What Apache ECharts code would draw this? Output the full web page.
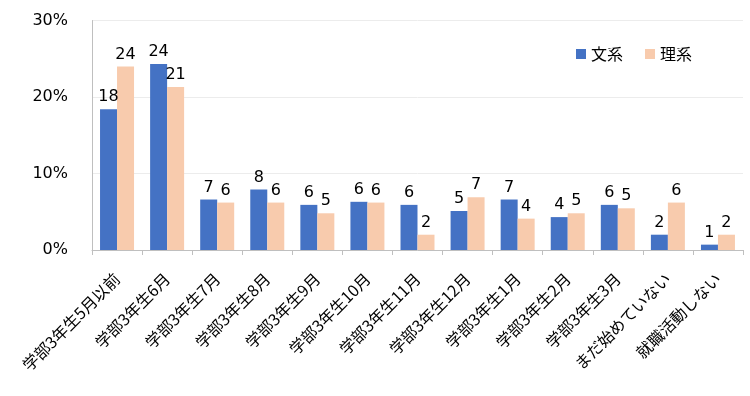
<!DOCTYPE html>
<html><head><meta charset="utf-8">
<script src="https://cdn.jsdelivr.net/npm/echarts@6/dist/echarts.min.js"></script>
<style>html,body{margin:0;padding:0;background:#fff}#c{width:750px;height:396px}</style>
</head><body><div id="c"></div>
<script>
const categories = ['学部3年生5月以前','学部3年生6月','学部3年生7月','学部3年生8月','学部3年生9月','学部3年生10月','学部3年生11月','学部3年生12月','学部3年生1月','学部3年生2月','学部3年生3月','まだ始めていない','就職活動しない'];
const bunkei = [18.4, 24.3, 6.6, 7.9, 5.9, 6.3, 5.9, 5.1, 6.6, 4.3, 5.9, 2.0, 0.7];
const rikei = [24.0, 21.3, 6.2, 6.2, 4.8, 6.2, 2.0, 6.9, 4.1, 4.8, 5.45, 6.2, 2.0];
const yTicks = [0, 10, 20, 30];
const FONT = 'DejaVu Sans, "Noto Sans CJK JP", sans-serif';
const chart = echarts.init(document.getElementById('c'));
const lbl = {show:true, position:'top', distance:4, color:'#000', fontSize:16, fontFamily:FONT,
  formatter: p => Math.round(p.value)};
chart.setOption({
  animation:false,
  textStyle:{fontFamily:FONT},
  grid:{left:92, right:7, top:20.5, bottom:146, containLabel:false},
  legend:{data:['文系','理系'], right:50, top:42, itemWidth:10, itemHeight:10, itemGap:22, icon:'rect',
    textStyle:{fontSize:16, color:'#000', fontFamily:'"Noto Sans CJK JP", sans-serif'}, backgroundColor:'#fff', padding:[4,8]},
  xAxis:{type:'category', data:categories,
    axisLine:{lineStyle:{color:'#bfbfbf'}},
    axisTick:{show:true, alignWithLabel:false, length:5, lineStyle:{color:'#bfbfbf'}},
    axisLabel:{rotate:45, interval:0, fontSize:16, color:'#000', fontFamily:'"Noto Sans CJK JP", sans-serif', margin:26}},
  yAxis:{type:'value', min:0, max:30, interval:10,
    axisLine:{show:true, lineStyle:{color:'#bfbfbf'}},
    axisTick:{show:false},
    splitLine:{lineStyle:{color:'#ececec'}},
    axisLabel:{formatter: v => yTicks.includes(v) ? v + '%' : '', fontSize:16, color:'#000', fontFamily:FONT, margin:24, padding:[4,0,0,0]}},
  series:[
    {name:'文系', type:'bar', data:bunkei, barWidth:17, barGap:'0%', itemStyle:{color:'#4472C4'}, label:lbl},
    {name:'理系', type:'bar', data:rikei, barWidth:17, barGap:'0%', itemStyle:{color:'#F8CBAD'}, label:lbl}
  ]
});
</script></body></html>
